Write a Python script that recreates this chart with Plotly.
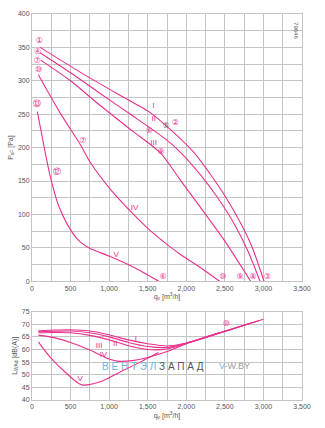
import plotly.graph_objects as go

PINK = "#e8308c"
GRID = "#c4c4c4"
TXT = "#555555"
FONT = "Liberation Sans"

# ---- top chart: static pressure p_sF [Pa] vs q_v [m3/h]
q_I = [104, 624, 1101, 1500, 1707, 2098, 2300, 2500, 2700, 2850, 3008]
p_I = [350, 313, 281, 255, 236, 193, 162, 128, 88, 52, 0]
q_II = [104, 500, 884, 1300, 1729, 1925, 2200, 2400, 2600, 2800, 2956]
p_II = [342, 312, 281, 248, 213, 193, 157, 126, 90, 45, 0]
q_III = [113, 500, 884, 1300, 1665, 1925, 2200, 2500, 2835]
p_III = [331, 300, 263, 225, 192, 151, 108, 60, 0]
q_IV = [82, 364, 624, 754, 1014, 1317, 1512, 1729, 1925, 2200, 2432]
p_IV = [309, 252, 205, 178, 138, 100, 78, 57, 40, 19, 0]
q_V = [69, 147, 234, 342, 494, 624, 754, 1014, 1317, 1643]
p_V = [254, 207, 158, 114, 78, 59, 49, 37, 21, 0]

# ---- bottom chart: sound power L_WAd [dB(A)] vs q_v
lq_I = [82, 300, 500, 750, 1000, 1250, 1500, 1750, 2000, 2500, 3000]
lw_I = [67.4, 67.7, 67.8, 67.3, 65.8, 63.8, 62.3, 61.4, 62.6, 67.3, 72.0]
lq_II = [82, 300, 500, 750, 1000, 1250, 1500, 1750, 2000, 2500, 2950]
lw_II = [67.0, 67.2, 67.3, 66.6, 65.0, 62.8, 61.2, 60.8, 62.5, 67.2, 71.5]
lq_III = [82, 300, 500, 750, 1000, 1250, 1500, 1750, 2000, 2500, 2840]
lw_III = [66.6, 66.7, 66.6, 65.6, 63.8, 61.5, 60.0, 60.2, 62.4, 67.1, 70.5]
lq_IV = [82, 300, 500, 750, 1000, 1100, 1300, 1500, 1750, 2000, 2430]
lw_IV = [65.7, 64.6, 62.8, 59.8, 56.2, 55.4, 55.6, 56.8, 59.2, 62.3, 66.7]
lq_V = [82, 234, 450, 645, 883, 1143, 1402, 1640]
lw_V = [63.0, 57.0, 50.5, 46.0, 47.2, 51.1, 55.0, 58.8]

# curve labels
top_roman = ["I", "II", "III", "IV", "V"]
top_roman_q = [1577, 1577, 1577, 1330, 1092]
top_roman_p = [262, 243, 207, 110, 40]
bot_roman = ["I", "II", "III", "IV", "V"]
bot_roman_q = [1346, 1078, 870, 926, 623]
bot_roman_l = [64.2, 62.2, 61.2, 58.0, 48.3]

circ_text = ["①", "④", "⑦", "⑩", "⑬", "②", "⑥", "⑨", "⑦", "⑫",
             "⑥", "⑩", "⑨", "⑧", "③"]
circ_q = [95, 74, 65, 87, 61, 1859, 1520, 1675, 658, 321,
          1699, 2475, 2696, 2865, 3052]
circ_p = [359, 343, 330, 316, 265, 237, 225, 194, 210, 163,
          7, 7, 7, 7, 7]
grey_circ_text = ["⑤"]
grey_circ_q = [1738]
grey_circ_p = [232]
bot_circ_text = ["⑩"]
bot_circ_q = [2519]
bot_circ_l = [69.9]

fig = go.Figure()
for q, p in [(q_I, p_I), (q_II, p_II), (q_III, p_III), (q_IV, p_IV), (q_V, p_V)]:
    fig.add_trace(go.Scatter(x=q, y=p, mode="lines", xaxis="x", yaxis="y",
                             line=dict(color=PINK, width=1.1, shape="spline", smoothing=0.7),
                             showlegend=False, hoverinfo="skip"))
for q, l in [(lq_I, lw_I), (lq_II, lw_II), (lq_III, lw_III), (lq_IV, lw_IV), (lq_V, lw_V)]:
    fig.add_trace(go.Scatter(x=q, y=l, mode="lines", xaxis="x2", yaxis="y2",
                             line=dict(color=PINK, width=1.1, shape="spline", smoothing=0.8),
                             showlegend=False, hoverinfo="skip"))

fig.add_trace(go.Scatter(x=top_roman_q, y=top_roman_p, text=top_roman, mode="text",
                         xaxis="x", yaxis="y", textfont=dict(color=PINK, size=8, family=FONT),
                         showlegend=False, hoverinfo="skip"))
fig.add_trace(go.Scatter(x=bot_roman_q, y=bot_roman_l, text=bot_roman, mode="text",
                         xaxis="x2", yaxis="y2", textfont=dict(color=PINK, size=8, family=FONT),
                         showlegend=False, hoverinfo="skip"))
fig.add_trace(go.Scatter(x=circ_q, y=circ_p, text=circ_text, mode="text",
                         xaxis="x", yaxis="y", textfont=dict(color=PINK, size=8, family="DejaVu Sans"),
                         showlegend=False, hoverinfo="skip"))
fig.add_trace(go.Scatter(x=grey_circ_q, y=grey_circ_p, text=grey_circ_text, mode="text",
                         xaxis="x", yaxis="y", textfont=dict(color="#666666", size=8, family="DejaVu Sans"),
                         showlegend=False, hoverinfo="skip"))
fig.add_trace(go.Scatter(x=bot_circ_q, y=bot_circ_l, text=bot_circ_text, mode="text",
                         xaxis="x2", yaxis="y2", textfont=dict(color=PINK, size=8, family="DejaVu Sans"),
                         showlegend=False, hoverinfo="skip"))

def xax(domain_anchor):
    return dict(range=[0, 3500], dtick=500, tickformat=",d", showgrid=True, gridcolor=GRID,
                gridwidth=1, zeroline=False, showline=True, linecolor=GRID, mirror=True,
                minor=dict(dtick=250, showgrid=True, gridcolor=GRID, gridwidth=1),
                tickfont=dict(size=7, color=TXT, family=FONT), ticks="",
                title=dict(text="q<sub>v</sub> [m<sup>3</sup>/h]", font=dict(size=7, color=TXT, family=FONT),
                           standoff=3),
                anchor=domain_anchor)

fig.update_layout(
    width=325, height=428,
    margin=dict(l=32, r=23, t=10, b=28),
    paper_bgcolor="white", plot_bgcolor="white",
    xaxis=xax("y"),
    yaxis=dict(domain=[0.3077, 1.0], range=[0, 400], dtick=50, showgrid=True, gridcolor=GRID,
               zeroline=False, showline=True, linecolor=GRID, mirror=True,
               minor=dict(dtick=25, showgrid=True, gridcolor=GRID),
               tickfont=dict(size=7, color=TXT, family=FONT), ticks="",
               title=dict(text="P<sub>sF</sub> [Pa]", font=dict(size=7, color=TXT, family=FONT), standoff=3),
               anchor="x"),
    xaxis2=xax("y2"),
    yaxis2=dict(domain=[0.0, 0.229], range=[40, 75], dtick=5, showgrid=True, gridcolor=GRID,
                zeroline=False, showline=True, linecolor=GRID, mirror=True,
                tickfont=dict(size=7, color=TXT, family=FONT), ticks="",
                title=dict(text="L<sub>WAd</sub> [dB(A)]", font=dict(size=7, color=TXT, family=FONT), standoff=3),
                anchor="x2"),
    annotations=[
        dict(text="79646", xref="paper", yref="paper", x=0.975, y=0.985, showarrow=False,
             textangle=90, font=dict(size=6, color=TXT, family=FONT), xanchor="center", yanchor="top"),
        dict(text="<span style='color:#6fb4e3'>В Е Н Т Э Л </span><span style='color:#555555'>З А П А Д</span>",
             xref="paper", yref="paper", x=(100 - 32) / 270, y=(400 - 366) / 390, showarrow=False,
             xanchor="left", yanchor="middle", font=dict(size=10, family=FONT)),
        dict(text="<span style='color:#6fb4e3'>V</span><span style='color:#9a9a9a'>-W.BY</span>",
             xref="paper", yref="paper", x=(217 - 32) / 270, y=(400 - 366) / 390, showarrow=False,
             xanchor="left", yanchor="middle", font=dict(size=9, family=FONT)),
    ],
)

fig.write_html("out.html")
